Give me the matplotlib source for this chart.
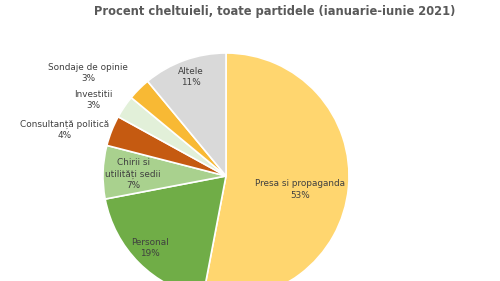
import matplotlib
matplotlib.use("Agg")
import matplotlib.pyplot as plt

categories = ["Presa si propaganda", "Personal", "Chirii si\nutilități sedii",
              "Consultanță politică", "Investitii", "Sondaje de opinie", "Altele"]
values = [53, 19, 7, 4, 3, 3, 11]
colors = ["#FFD66F", "#70AD47", "#A9D18E", "#C55A11", "#E2F0D9", "#F8B934", "#D9D9D9"]
# label positions (relative to pie radius)
label_pos = [(0.60, -0.11), (-0.62, -0.585), (-0.756, 0.016), (-1.31, 0.374),
             (-1.08, 0.618), (-1.12, 0.837), (-0.285, 0.805)]

fig = plt.figure(figsize=(5.0, 2.81), dpi=100)
ax = fig.add_axes([(226 - 123) / 500, (105 - 123) / 281, 246 / 500, 246 / 281])
ax.pie(values, colors=colors, startangle=90, counterclock=False,
       wedgeprops=dict(edgecolor="white", linewidth=1.2), radius=1.0)
ax.set_xlim(-1, 1)
ax.set_ylim(-1, 1)
ax.set_aspect("equal")
ax.axis("off")
for cat, v, (x, y) in zip(categories, values, label_pos):
    ax.text(x, y, f"{cat}\n{v}%", ha="center", va="center", fontsize=6.4,
            color="#404040", linespacing=1.3, family="DejaVu Sans", clip_on=False)

fig.text(275 / 500, 1 - 12 / 281, "Procent cheltuieli, toate partidele (ianuarie-iunie 2021)",
         ha="center", va="center", fontsize=8.3, fontweight="bold", color="#595959")
fig.savefig("out.png", dpi=100)
